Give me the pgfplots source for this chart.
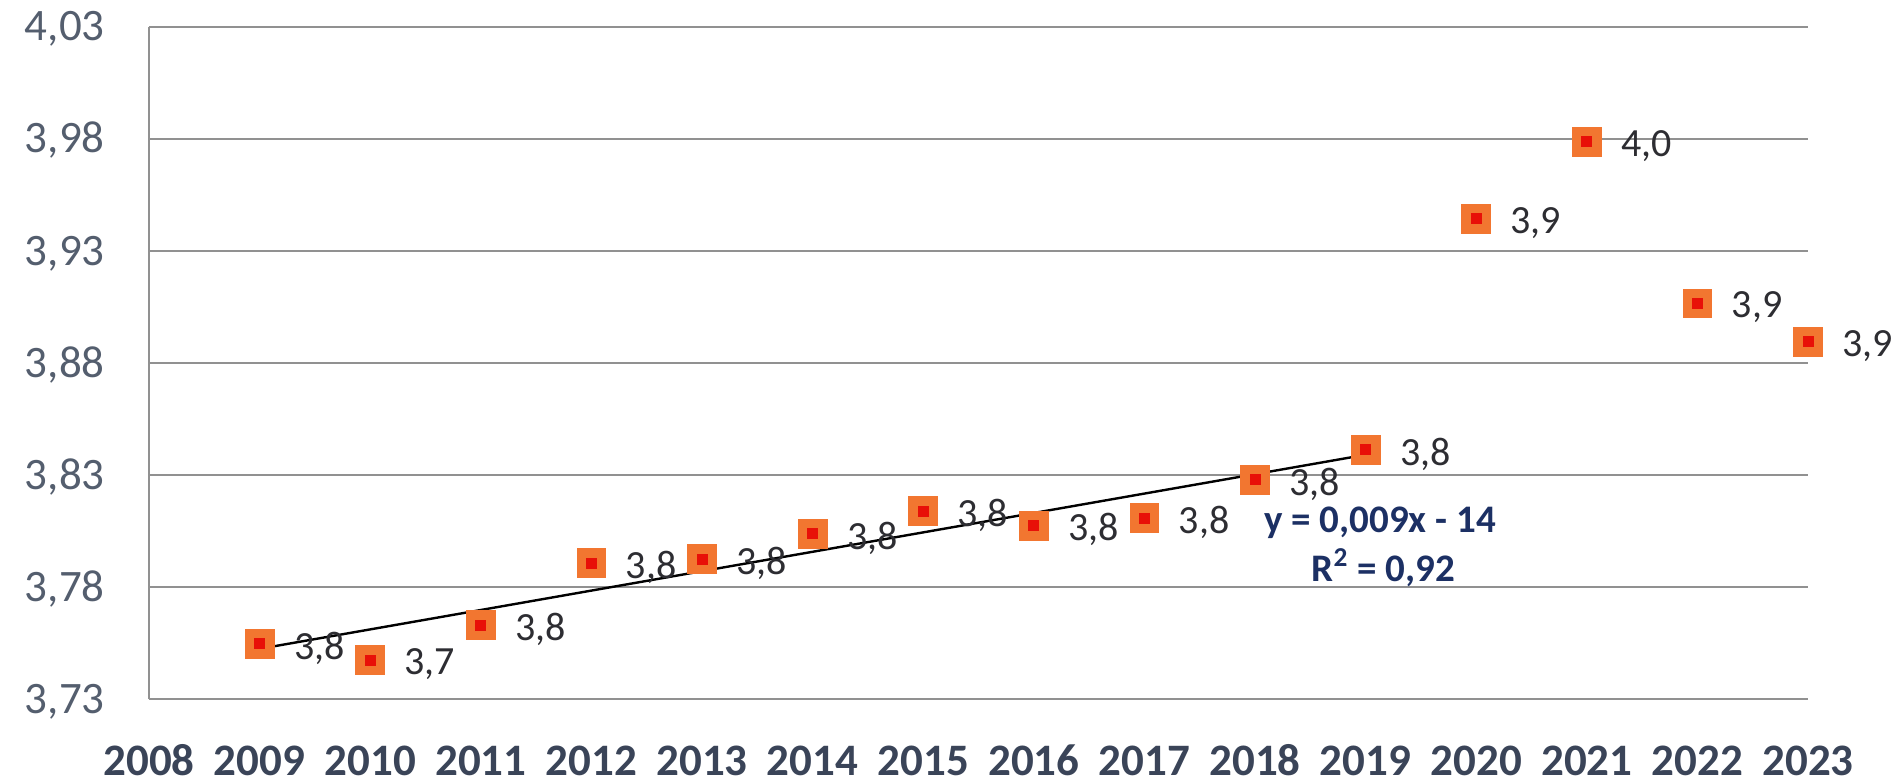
\documentclass[border=0pt]{standalone}
\usepackage{pgfplots}
\usepackage{pgfplotstable}
\pgfplotsset{compat=1.18}
\usepackage{fontspec}
\setmainfont{Carlito}
\definecolor{mk}{RGB}{242,118,48}
\definecolor{mkc}{RGB}{232,16,8}
\definecolor{gridc}{RGB}{145,145,145}
\definecolor{ytl}{RGB}{84,94,110}
\definecolor{xtl}{RGB}{58,68,88}
\definecolor{lbl}{RGB}{45,45,50}
\definecolor{eqc}{RGB}{28,48,100}

\pgfplotstableread{
x y
2009 3.7546
2010 3.7474
2011 3.7630
2012 3.7907
2013 3.7925
2014 3.8037
2015 3.8139
2016 3.8074
2017 3.8108
2018 3.8278
2019 3.8412
2020 3.9443
2021 3.9788
2022 3.9066
2023 3.8895
}\alldata

\pgfplotstableread{
x dx y
2009 0 3.7546
2010 1 3.7474
2011 2 3.7630
2012 3 3.7907
2013 4 3.7925
2014 5 3.8037
2015 6 3.8139
2016 7 3.8074
2017 8 3.8108
2018 9 3.8278
2019 10 3.8412
}\trenddata

\begin{document}
\begin{tikzpicture}
\begin{axis}[
  name=ax, at={(0,0)}, anchor=south west,
  scale only axis, width=829.5pt, height=336pt,
  xmin=2008, xmax=2023, ymin=3.73, ymax=4.03,
  axis lines*=left,
  x axis line style={draw=none},
  y axis line style={gridc, line width=1.1pt},
  xtick={2008,2009,2010,2011,2012,2013,2014,2015,2016,2017,2018,2019,2020,2021,2022,2023},
  ytick={3.73,3.78,3.83,3.88,3.93,3.98,4.03},
  major tick length=0pt,
  ymajorgrids,
  grid style={gridc, line width=1.1pt},
  /pgf/number format/assume math mode=true,
  xticklabel style={font=\fontsize{22.5}{27}\selectfont\bfseries, text=xtl, inner sep=0pt, anchor=base, yshift=-38pt, /pgf/number format/1000 sep={}},
  yticklabel style={font=\fontsize{22.5}{27}\selectfont, text=ytl, inner sep=0pt, anchor=base east, xshift=-22pt, yshift=-7pt, /pgf/number format/.cd, fixed, fixed zerofill, precision=2, use comma},
  clip=false,
]
\addplot[only marks, mark=square*, mark size=7.2pt, mark options={fill=mk, draw=mk, rounded corners=1.5pt},
  point meta=y,
  nodes near coords={\pgfmathprintnumber[fixed, fixed zerofill, precision=1, use comma]{\pgfplotspointmeta}},
  every node near coord/.append style={anchor=west, xshift=17pt, yshift=-2pt, inner sep=0pt, font=\fontsize{20}{24}\selectfont, text=lbl, /pgf/number format/assume math mode=true}
] table[x=x, y=y] {\alldata};
\addplot[only marks, mark=square*, mark size=2.5pt, mark options={fill=mkc, draw=mkc, line width=0pt}] table[x=x, y=y] {\alldata};
\addplot[black, line width=1.2pt, no marks] table[x=x, y={create col/linear regression={x=dx, y=y}}] {\trenddata};
\node[font=\fontsize{19.5}{23}\selectfont\bfseries, text=eqc] at (axis cs:2019.13,3.8085) {y = 0,009x - 14};
\node[font=\fontsize{19.5}{23}\selectfont\bfseries, text=eqc] at (axis cs:2019.16,3.7885) {R\textsuperscript{2} = 0,92};
\end{axis}
\pgfresetboundingbox
\useasboundingbox ([shift={(-74.5pt,-41.5pt)}]ax.south west) rectangle ([shift={(43.5pt,13.5pt)}]ax.north east);
\end{tikzpicture}
\end{document}
